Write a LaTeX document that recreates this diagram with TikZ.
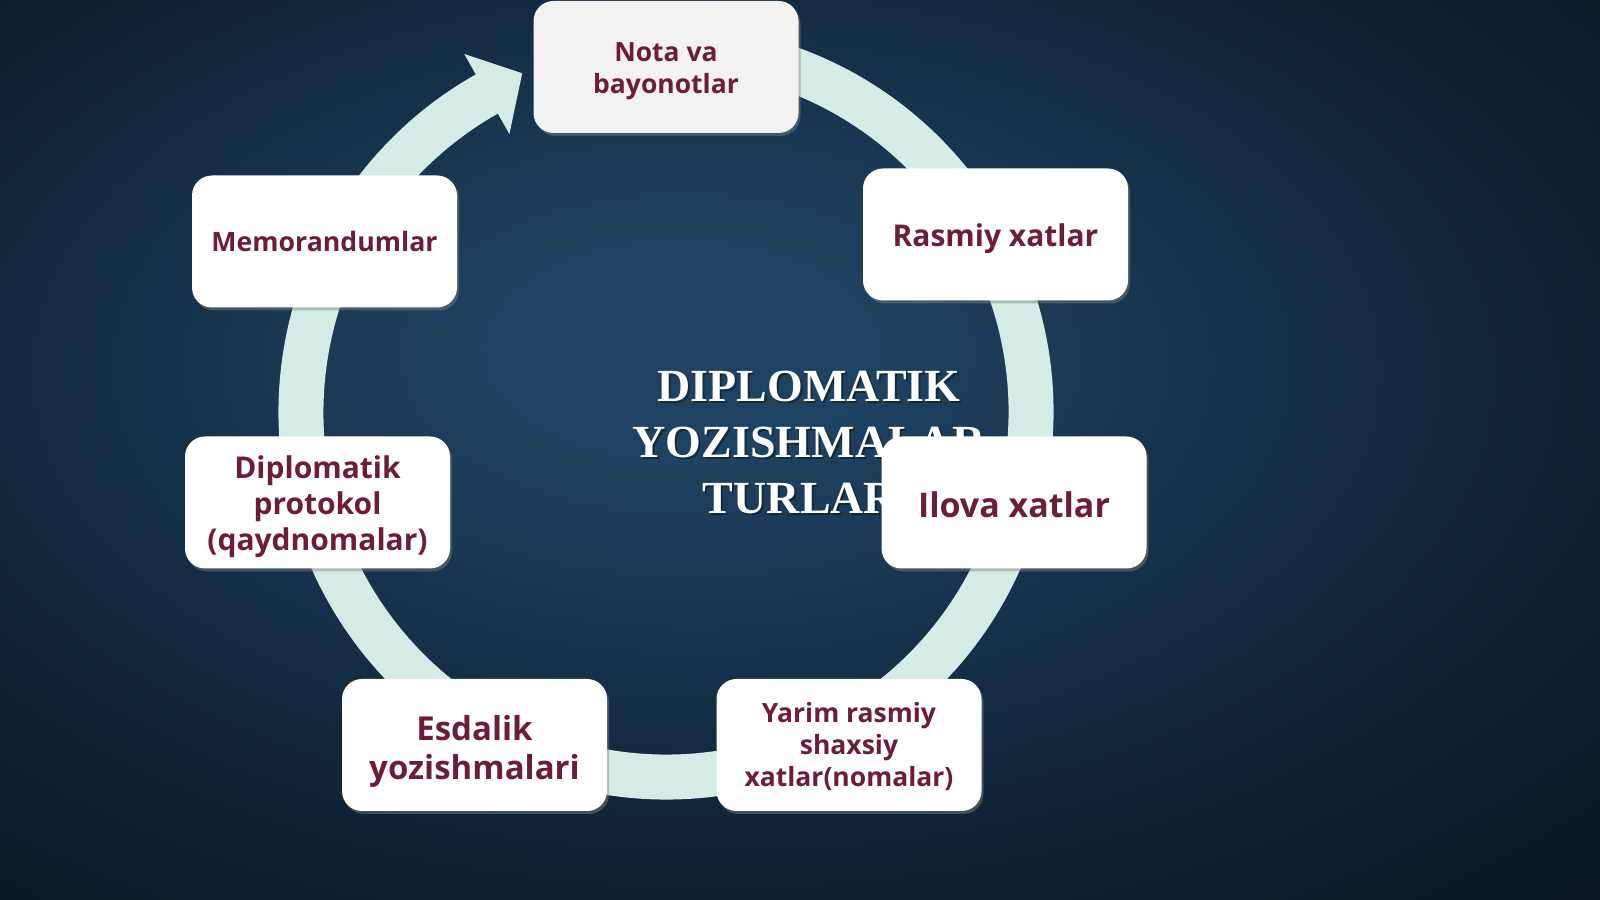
\documentclass[tikz,border=0pt]{standalone}
\usepackage{fontspec}
\setmainfont{Liberation Serif}
\newfontfamily\boxfont{Open Sans}
\usetikzlibrary{shadows,calc}
\definecolor{bgin}{RGB}{30,66,97}
\definecolor{bgmid}{RGB}{16,38,58}
\definecolor{bgout}{RGB}{7,16,26}
\definecolor{ringc}{RGB}{212,236,230}
\definecolor{txtc}{RGB}{110,30,52}
\definecolor{cardgrey}{RGB}{243,242,242}
\pgfdeclareradialshading{bgshade}{\pgfpoint{-4bp}{6bp}}{color(0bp)=(bgin); color(6bp)=(bgin); color(24bp)=(bgmid); color(44bp)=(bgout); color(80bp)=(bgout)}
\newcommand\tg[1]{\rule{0pt}{#1}}
\begin{document}
\begin{tikzpicture}[x=1pt,y=1pt,
  card/.style={fill=white, rounded corners=20pt, minimum width=265pt, minimum height=132pt,
    align=center, text=txtc, inner sep=4pt,
    drop shadow={opacity=0.45, shadow xshift=2pt, shadow yshift=-3pt}},
  ttlstyle/.style={align=center, font=\bfseries\fontsize{46}{56}\selectfont}
]
\useasboundingbox (0,0) rectangle (1600,899);
\shade[shading=bgshade] (0,0) rectangle (1600,899);
\coordinate (C) at (666,487);
% ring with arrow head
\draw[ringc, line width=45pt] ($(C)+(80:365)$) arc[start angle=80, end angle=-241.8, radius=365];
\fill[ringc] ($(C)+(119.4:411)$) -- ($(C)+(113:368)$) -- ($(C)+(119.4:319)$) -- cycle;
% title
\node[ttlstyle, text=black, opacity=0.35] (ttlshadow) at (811,455) {DIPLOMATIK\\YOZISHMALAR\\TURLARI};
\node[ttlstyle, text=white] (ttl) at (809,457) {DIPLOMATIK\\YOZISHMALAR\\TURLARI};
% cards
\node[card, fill=cardgrey, font=\boxfont\bfseries\fontsize{26.5}{32}\selectfont] (nota) at (666,832) {\tg{27pt}Nota va\\bayonotlar};
\node[card, font=\boxfont\bfseries\fontsize{30}{36}\selectfont] (rasmiy) at (995.5,664.5) {\tg{31pt}Rasmiy xatlar};
\node[card, font=\boxfont\bfseries\fontsize{26.7}{32}\selectfont] (memo) at (324.5,657.5) {Memorandumlar};
\node[card, font=\boxfont\bfseries\fontsize{30}{36}\selectfont] (proto) at (317.5,396.5) {\tg{31pt}Diplomatik\\protokol\\(qaydnomalar)};
\node[card, font=\boxfont\bfseries\fontsize{34}{40}\selectfont] (ilova) at (1014,396.5) {\tg{30pt}Ilova xatlar};
\node[card, font=\boxfont\bfseries\fontsize{33}{39}\selectfont] (esdalik) at (474.5,154) {\tg{37pt}Esdalik\\yozishmalari};
\node[card, font=\boxfont\bfseries\fontsize{26.5}{32}\selectfont] (yarim) at (849,154) {\tg{23pt}Yarim rasmiy\\shaxsiy\\xatlar(nomalar)};
\end{tikzpicture}
\end{document}
